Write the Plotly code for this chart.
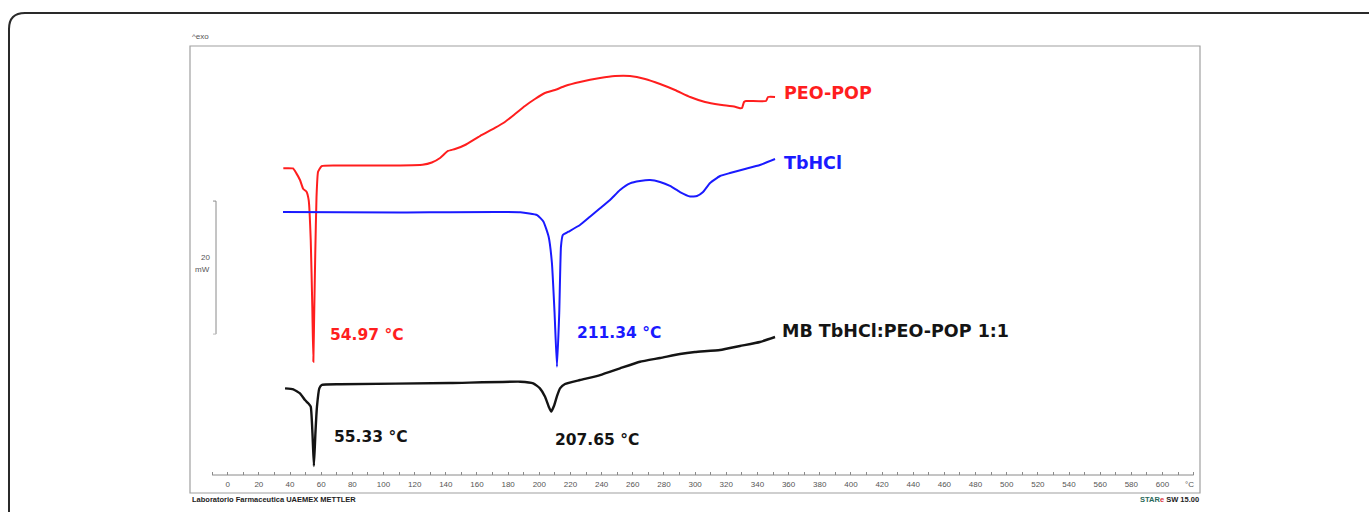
import plotly.graph_objects as go

W, H = 1369, 512

# ---- DSC curves (temperature in °C, offset heat flow in mW) ----
peo_t = [35.7, 41.9, 44.0, 46.4, 48.5, 50.6, 52.0, 53.3, 54.3, 54.97, 55.6, 56.2, 57.0, 58.0,
         60.3, 72.1, 110.6, 125.0, 131.0, 136.3, 141.4, 145.9, 152.3, 161.9, 171.5, 177.9, 184.4,
         190.8, 197.2, 203.6, 210.1, 216.5, 226.1, 239.0, 248.6, 258.2, 267.9, 277.5, 287.1,
         296.8, 306.4, 316.0, 325.6, 328.8, 330.1, 331.4, 332.7, 345.5, 346.8, 351.3]
peo_y = [48.83, 48.80, 48.10, 47.07, 45.71, 45.31, 44.0, 38.0, 28.0, 19.74, 28.0, 36.0, 44.5, 48.3,
         49.17, 49.25, 49.25, 49.35, 49.70, 50.38, 51.43, 51.73, 52.33, 53.68, 54.89, 55.79, 56.99,
         58.20, 59.25, 60.15, 60.60, 61.20, 61.80, 62.41, 62.71, 62.71, 62.26, 61.50, 60.60,
         59.55, 58.80, 58.38, 58.08, 57.86, 57.89, 58.80, 58.95, 58.95, 59.55, 59.55]

tb_t = [35.5, 110.6, 187.8, 198.6, 202.7, 206.0, 208.1, 209.8, 211.34, 212.8, 213.9, 215.1,
        218.7, 226.1, 232.5, 239.0, 245.4, 251.8, 258.2, 264.6, 271.1, 277.5, 283.9, 290.3,
        296.8, 301.2, 305.1, 309.6, 316.0, 322.4, 332.0, 341.6, 351.3]
tb_y = [42.26, 42.18, 42.21, 41.80, 40.80, 38.54, 34.59, 27.07, 18.99, 27.07, 37.04, 38.80,
        39.29, 40.30, 41.55, 42.81, 44.06, 45.56, 46.57, 46.92, 47.07, 46.77, 46.17, 45.26,
        44.59, 44.66, 45.26, 46.62, 47.67, 48.12, 48.72, 49.32, 50.23]

mb_t = [36.8, 42.1, 46.4, 49.6, 51.7, 53.3, 54.4, 55.33, 56.3, 57.3, 58.8, 60.3, 72.1, 142.7,
        187.8, 196.1, 200.4, 203.7, 206.2, 207.65, 209.6, 211.4, 213.3, 216.5, 226.1, 239.0,
        251.8, 264.6, 277.5, 290.3, 299.9, 316.0, 328.8, 341.6, 351.3]
mb_y = [15.74, 15.59, 14.99, 13.98, 13.49, 12.98, 9.0, 4.06, 9.0, 12.98, 15.74, 16.24, 16.35, 16.54,
        16.74, 16.50, 15.74, 14.48, 12.9, 12.23, 13.2, 14.6, 15.74, 16.39, 16.99, 17.74,
        18.75, 19.74, 20.30, 20.90, 21.20, 21.50, 22.11, 22.71, 23.46]

curve_names = ["PEO-POP", "TbHCl", "MB TbHCl:PEO-POP 1:1"]
curve_colors = ["#ff1e1e", "#1a1aff", "#141414"]
peak_labels = ["54.97 °C", "211.34 °C", "55.33 °C", "207.65 °C"]

tick_vals = list(range(0, 601, 20))
minor_vals = list(range(-10, 621, 10))

# pixel layout of the plot frame
FL, FR, FT, FB = 190, 1200, 46, 493
AXIS_Y = 475
PX_PER_C = 1.558
ZERO_PX = 227.7
PX_PER_MW = 6.65


def px(x):
    return x / W


def py(y):
    return 1 - y / H


x_range = [(FL - ZERO_PX) / PX_PER_C, (FR - ZERO_PX) / PX_PER_C]
y_range = [0, (FB - FT) / PX_PER_MW]

fig = go.Figure()
for t, y, name, col, w in [(peo_t, peo_y, curve_names[0], curve_colors[0], 2.0),
                           (tb_t, tb_y, curve_names[1], curve_colors[1], 2.0),
                           (mb_t, mb_y, curve_names[2], curve_colors[2], 2.4)]:
    fig.add_trace(go.Scatter(x=t, y=y, mode="lines", name=name,
                             line=dict(color=col, width=w, shape="spline", smoothing=0.4),
                             showlegend=False, hoverinfo="skip"))

label_font = "DejaVu Sans"
annotations = []
# curve names
for text, col, x, y in [(curve_names[0], curve_colors[0], 782, 93),
                        (curve_names[1], curve_colors[1], 782, 163),
                        (curve_names[2], curve_colors[2], 780, 331)]:
    annotations.append(dict(x=px(x), y=py(y), xref="paper", yref="paper", text="<b>%s</b>" % text,
                            showarrow=False, xanchor="left", yanchor="middle",
                            font=dict(family=label_font, size=17.5, color=col)))
# peak temperatures
for text, col, x, y in [(peak_labels[0], curve_colors[0], 328, 335),
                        (peak_labels[1], curve_colors[1], 575, 333),
                        (peak_labels[2], curve_colors[2], 332, 437),
                        (peak_labels[3], curve_colors[2], 553, 440)]:
    annotations.append(dict(x=px(x), y=py(y), xref="paper", yref="paper", text="<b>%s</b>" % text,
                            showarrow=False, xanchor="left", yanchor="middle",
                            font=dict(family=label_font, size=15.5, color=col)))

small = dict(family="Liberation Sans", size=8, color="#555")
annotations += [
    dict(x=px(190), y=py(36), xref="paper", yref="paper", text="^exo", showarrow=False,
         xanchor="left", yanchor="middle", font=small),
    dict(x=px(212), y=py(257), xref="paper", yref="paper", text="20", showarrow=False,
         xanchor="right", yanchor="middle", font=small),
    dict(x=px(212), y=py(269), xref="paper", yref="paper", text="mW", showarrow=False,
         xanchor="right", yanchor="middle", font=small),
    dict(x=px(1183), y=py(484), xref="paper", yref="paper", text="°C", showarrow=False,
         xanchor="left", yanchor="middle", font=small),
    dict(x=px(190), y=py(499), xref="paper", yref="paper",
         text="<b>Laboratorio Farmaceutica UAEMEX METTLER</b>", showarrow=False,
         xanchor="left", yanchor="middle", font=dict(family="Liberation Sans", size=7.5, color="#222")),
    dict(x=px(1201), y=py(499), xref="paper", yref="paper",
         text="<b><span style='color:#2a6a5a'>STAR</span><span style='color:#e03040'>e</span> SW 15.00</b>",
         showarrow=False, xanchor="right", yanchor="middle",
         font=dict(family="Liberation Sans", size=7.5, color="#222")),
]

shapes = [
    # plot frame
    dict(type="rect", xref="paper", yref="paper", x0=px(FL), x1=px(FR), y0=py(FB), y1=py(FT),
         line=dict(color="#a0a0a0", width=1.2), layer="below"),
    # temperature axis line
    dict(type="line", xref="x", yref="paper", x0=-10, x1=620, y0=py(AXIS_Y), y1=py(AXIS_Y),
         line=dict(color="#8a8a8a", width=1)),
    # 20 mW scale bar
    dict(type="line", xref="paper", yref="y", x0=px(216), x1=px(216), y0=23.9, y1=43.9,
         line=dict(color="#8a8a8a", width=1)),
    dict(type="line", xref="paper", yref="y", x0=px(213), x1=px(216), y0=43.9, y1=43.9,
         line=dict(color="#8a8a8a", width=1)),
    dict(type="line", xref="paper", yref="y", x0=px(213), x1=px(216), y0=23.9, y1=23.9,
         line=dict(color="#bbbbbb", width=1)),
    # rounded outer border
    dict(type="path", xref="paper", yref="paper",
         path="M %f,%f L %f,%f Q %f,%f %f,%f L %f,%f" % (
             px(9), py(520), px(9), py(29), px(9), py(13), px(25), py(13), px(1375), py(13)),
         line=dict(color="#2a2a2a", width=2)),
]

fig.update_layout(
    width=W, height=H,
    margin=dict(l=0, r=0, t=0, b=0),
    paper_bgcolor="white", plot_bgcolor="white",
    xaxis=dict(domain=[px(FL), px(FR)], range=x_range, anchor="free", position=py(AXIS_Y),
               showgrid=False, zeroline=False, showline=False,
               tickmode="array", tickvals=tick_vals, ticktext=[str(v) for v in tick_vals],
               ticks="inside", ticklen=3, tickwidth=1, tickcolor="#8a8a8a",
               ticklabelstandoff=3,
               tickfont=dict(family="Liberation Sans", size=8, color="#555"),
               minor=dict(tickmode="array", tickvals=minor_vals, ticks="inside", ticklen=3,
                          tickwidth=1, tickcolor="#8a8a8a", showgrid=False)),
    yaxis=dict(domain=[py(FB), py(FT)], range=y_range, visible=False, showgrid=False,
               zeroline=False),
    annotations=annotations,
    shapes=shapes,
)

fig.write_html("out.html")
